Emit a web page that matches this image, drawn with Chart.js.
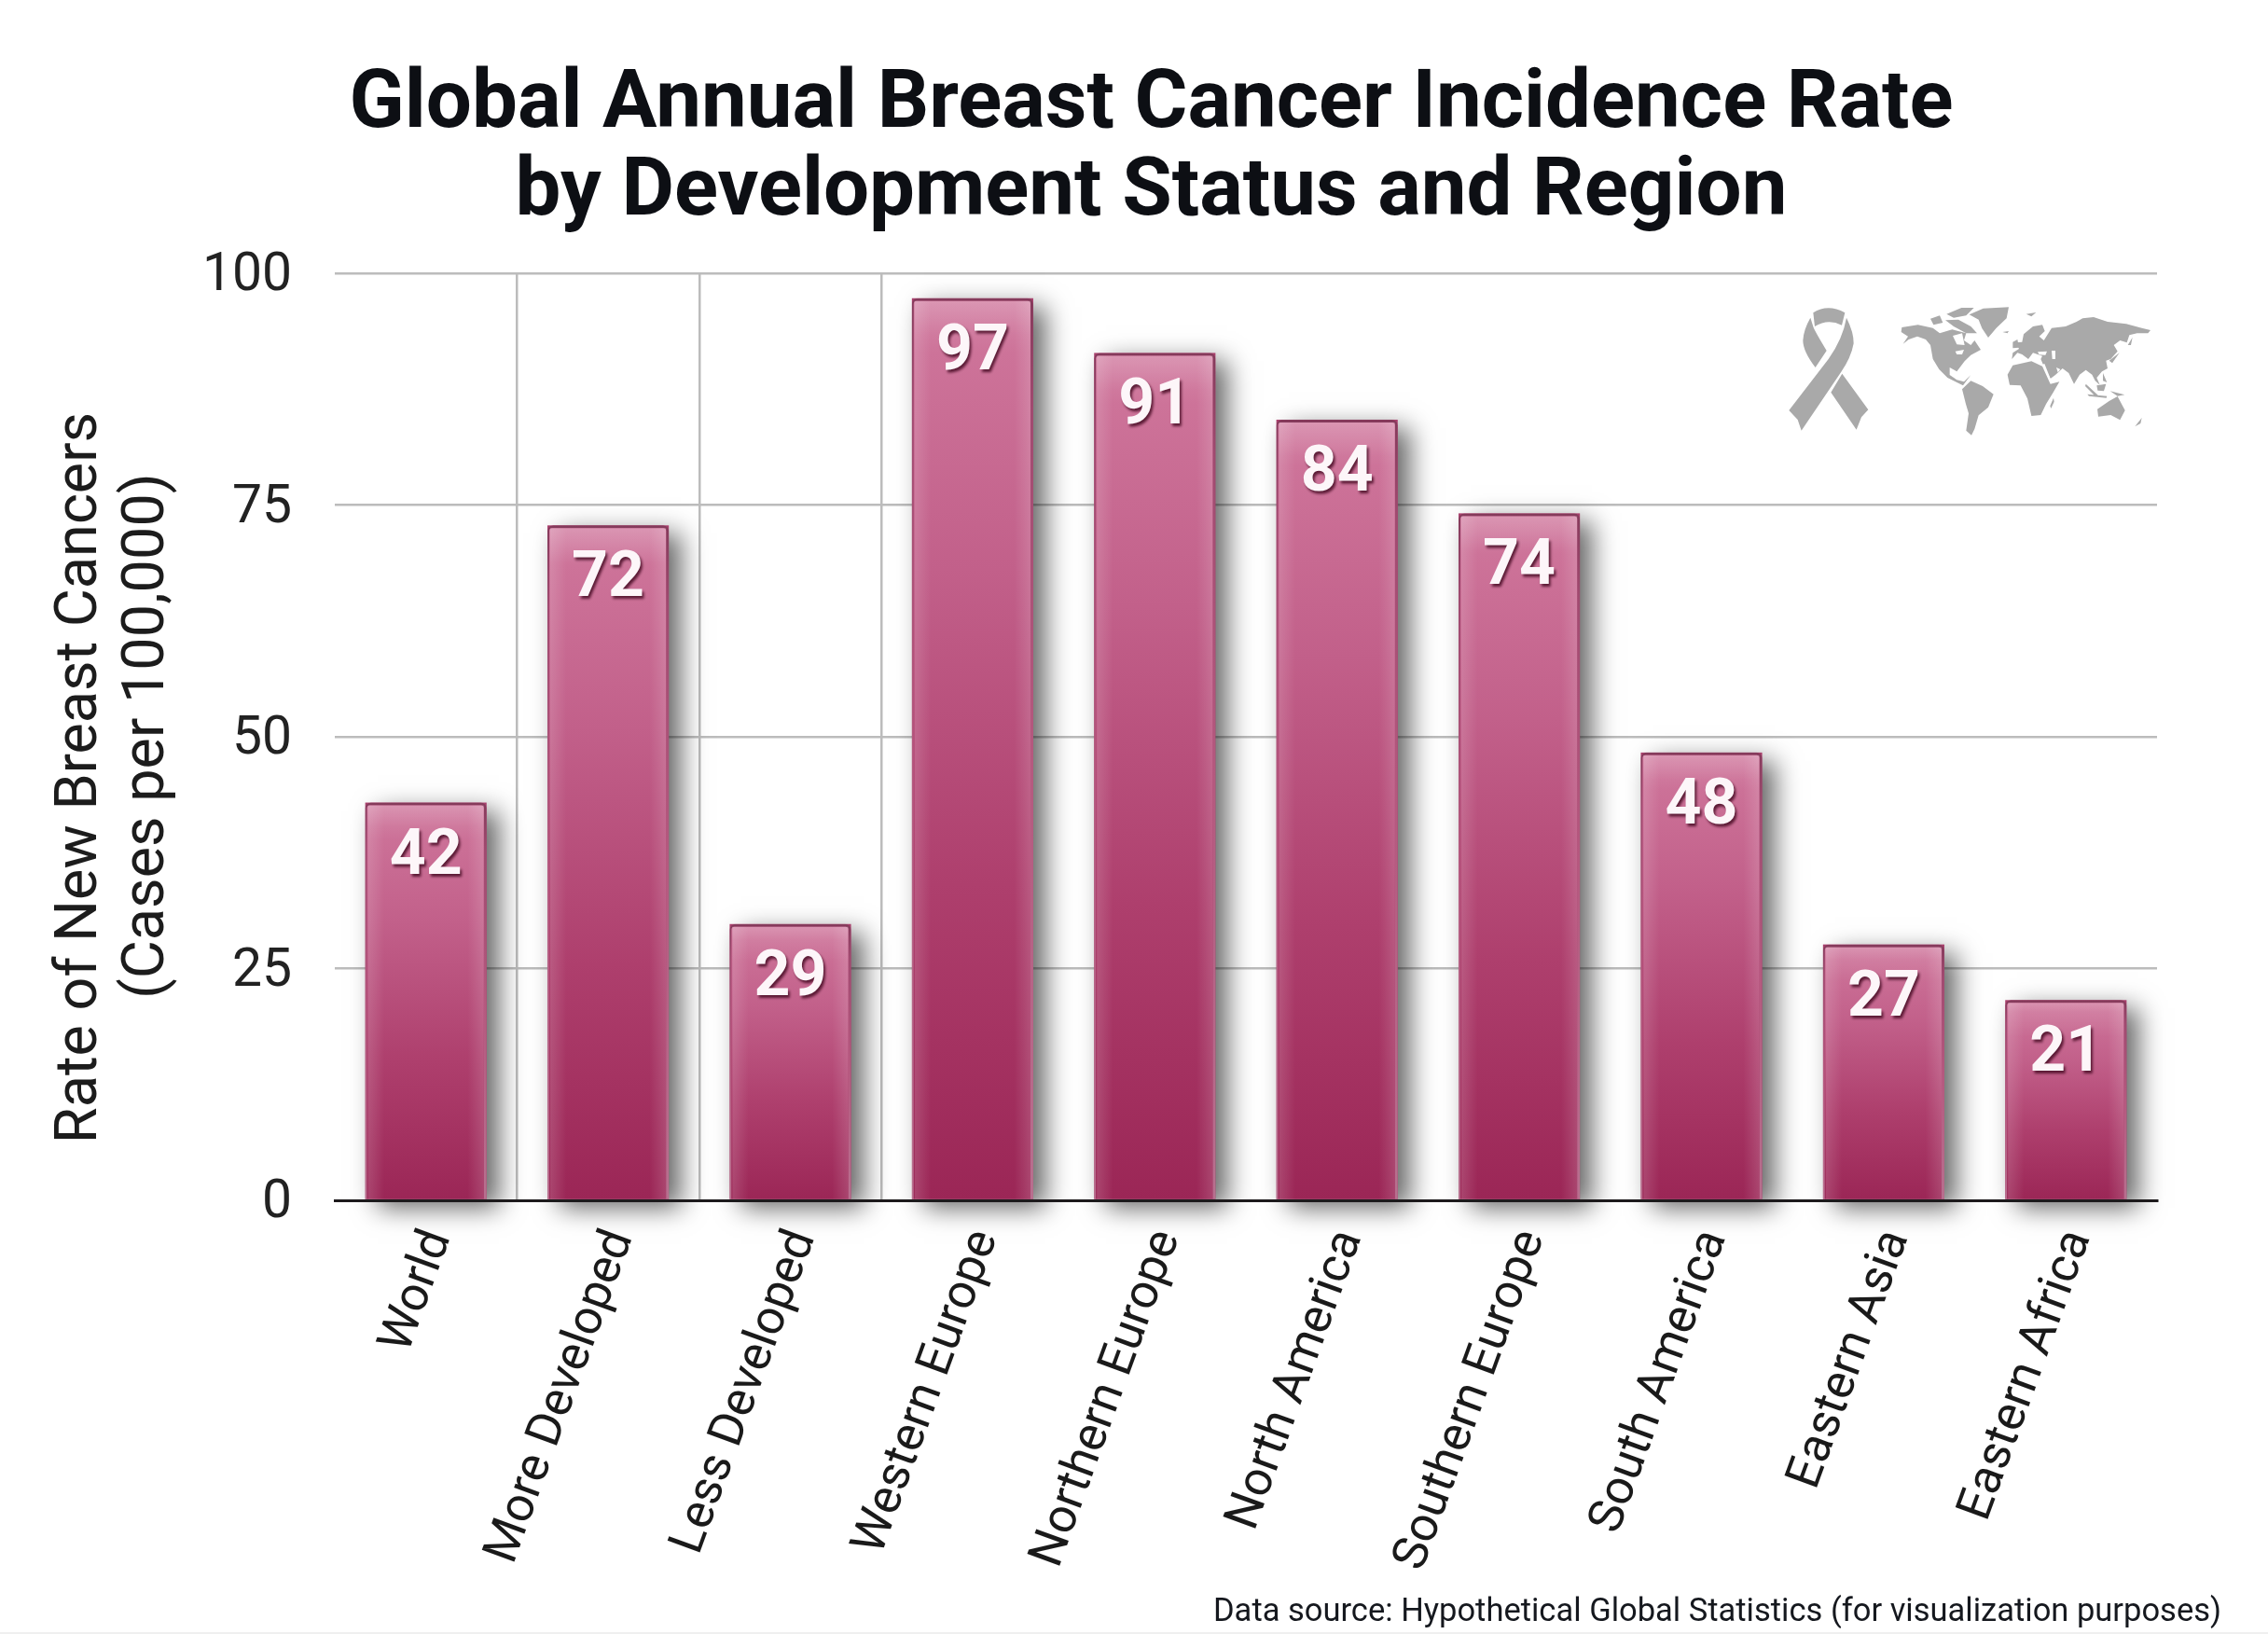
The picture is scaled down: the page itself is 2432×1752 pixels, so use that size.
<!DOCTYPE html>
<html>
<head>
<meta charset="utf-8">
<title>Global Annual Breast Cancer Incidence Rate</title>
<script src="https://cdn.jsdelivr.net/npm/chart.js@4"></script>
<style>
  html, body { margin: 0; padding: 0; background: #efefef; }
  #wrap { position: relative; width: 2432px; height: 1750px; background: #fff; overflow: hidden; }
  canvas { display: block; }
  #icons { position: absolute; left: 1850px; top: 270px; width: 500px; height: 230px; }
</style>
</head>
<body>
<div id="wrap">
  <canvas id="chart" width="2432" height="1750"></canvas>
  <!-- decorative ribbon and world map, traced by hand -->
  <svg id="icons" viewBox="0 0 1500 690">
    <g fill="#a9a9a9">
      <path d="M283 196 Q330 166 385 196 L375 236 Q330 214 288 240 Z"/>
      <path d="M274 212 L284 244 Q292 262 326 318 L290 372 Q250 320 250 285 Q252 250 274 212 Z"/>
      <path d="M390 212 Q414 260 413 295 Q405 340 372 388 L245 575 L233 540 L205 510 L332 345 Q378 280 390 212 Z"/>
      <path d="M376 392 L460 508 L438 532 L422 572 L340 452 Z"/>
      <path d="M568 243 L620 235 L668 245 L690 262 L730 250 L775 262 L768 285 L790 300 L802 285 L822 315 L790 332 L770 352 L745 385 L722 372 L722 396 L745 412 L768 418 L790 396 L765 430 L745 420 L715 405 L688 378 L668 345 L660 300 L645 282 L618 272 L590 282 L572 296 L588 272 L566 258 Z"/>
      <path d="M785 202 L830 182 L912 178 L905 214 L872 245 L846 276 L826 246 L815 218 Z"/>
      <path d="M660 215 L690 205 L700 228 L670 235 Z M712 200 L760 180 L800 180 L775 205 L735 212 Z M708 220 L750 218 L790 240 L810 262 L775 262 L735 240 Z"/>
      <path d="M762 442 L790 415 L828 432 L863 458 L846 500 L815 526 L802 570 L792 590 L775 575 L783 520 L774 490 Z"/>
      <path d="M908 395 L925 365 L985 352 L1020 368 L1046 425 L1075 418 L1055 452 L1032 490 L1015 525 L985 528 L972 472 L950 430 L915 428 Z"/>
      <path d="M922 345 L925 325 L945 312 L935 292 L955 290 L960 265 L990 240 L1020 235 L1028 255 L1010 272 L1025 285 L1050 245 L1095 240 L1130 225 L1150 214 L1185 210 L1230 225 L1290 232 L1340 245 L1368 252 L1360 262 L1325 262 L1300 268 L1292 292 L1270 285 L1250 300 L1262 320 L1240 345 L1225 350 L1230 375 L1212 385 L1195 405 L1205 428 L1190 415 L1180 395 L1160 380 L1140 395 L1122 425 L1105 390 L1085 375 L1062 396 L1046 408 L1025 368 L1015 345 L1020 335 L990 325 L975 345 L955 330 L940 325 Z"/>
      <path d="M1197 506 L1235 480 L1262 465 L1286 510 L1270 541 L1240 525 L1200 530 Z"/>
      <path d="M1045 496 L1056 470 L1058 482 L1048 504 Z M1295 300 L1310 275 L1305 300 Z M1235 350 L1268 325 L1245 358 Z"/>
      <path d="M1160 425 L1200 462 L1190 464 L1158 432 Z M1195 430 L1225 425 L1218 448 L1198 446 Z M1165 458 L1228 464 L1226 470 L1170 464 Z M1238 448 L1285 460 L1262 464 Z M1215 390 L1228 420 L1215 415 Z"/>
      <path d="M1318 562 L1340 534 L1336 552 Z M925 290 L940 282 L945 308 L925 310 Z M968 200 L1000 195 L985 208 Z M892 258 L912 255 L908 262 Z"/>
    </g>
    <g fill="#ffffff">
      <path d="M732 270 L762 262 L770 300 L745 298 Z M740 320 L768 315 L762 330 L745 330 Z M1005 322 L1035 320 L1030 332 L1010 331 Z M1050 318 L1062 318 L1062 345 L1052 345 Z M1021 362 L1027 360 L1050 418 L1045 420 Z M1065 372 L1078 378 L1070 388 Z"/>
    </g>
  </svg>
</div>
<script>
const categories = ["World", "More Developed", "Less Developed", "Western Europe", "Northern Europe", "North America", "Southern Europe", "South America", "Eastern Asia", "Eastern Africa"];
// bar heights as drawn in the picture, they sit a little above the printed numbers
const barHeights = [42.9, 72.8, 29.8, 97.3, 91.4, 84.2, 74.1, 48.3, 27.6, 21.6];
const valueLabels = ["42", "72", "29", "97", "91", "84", "74", "48", "27", "21"];
const yTickStep = 25;
const titleLines = ["Global Annual Breast Cancer Incidence Rate", "by Development Status and Region"];
const yTitleLines = ["Rate of New Breast Cancers", "(Cases per 100,000)"];
const sourceNote = "Data source: Hypothetical Global Statistics (for visualization purposes)";

const FONT = "Roboto";
const GRID = "#bcbcbc";
const verticalGridLines = [1, 2, 3];

function verticalGradient(context, fallback, stops) {
  const { chart, dataIndex } = context;
  const y = chart.scales.y;
  if (!y || dataIndex === undefined) return fallback;
  const y0 = y.getPixelForValue(barHeights[dataIndex]);
  const y1 = y.getPixelForValue(0);
  if (!Number.isFinite(y0) || !Number.isFinite(y1)) return fallback;
  const g = chart.ctx.createLinearGradient(0, y0, 0, y1);
  stops.forEach(([at, colour]) => g.addColorStop(at, colour));
  return g;
}

const barGradient = (c) => verticalGradient(c, "#b04a75", [[0, "#d688a9"], [0.06, "#cd7399"], [0.3, "#c2608a"], [0.65, "#ae3f6d"], [1, "#9b2656"]]);
const edgeGradient = (c) => verticalGradient(c, "#8a3d5e", [[0, "#853a5b"], [0.12, "#a04a70"], [0.5, "#b5597f"], [1, "#b8708f"]]);

// title box is fullSize, move it over to where the reference has it
const titleShift = {
  id: "titleShift",
  afterLayout(chart) {
    chart.titleBlock.left += 78;
    chart.titleBlock.right += 78;
  },
};

const barEffects = {
  id: "barEffects",
  // the bar element clips itself, so its drop shadow has to be laid down first
  beforeDatasetsDraw(chart) {
    const ctx = chart.ctx;
    ctx.save();
    ctx.shadowColor = "rgba(0,0,0,0.6)";
    ctx.shadowBlur = 26;
    ctx.shadowOffsetX = 13;
    ctx.shadowOffsetY = 9;
    ctx.fillStyle = "#a8406c";
    chart.getDatasetMeta(0).data.forEach((bar) => {
      const { x, y, base, width } = bar.getProps(["x", "y", "base", "width"], true);
      ctx.fillRect(x - width / 2, y, width, base - y);
    });
    ctx.restore();
  },
  afterDatasetsDraw(chart) {
    const ctx = chart.ctx;
    const bars = chart.getDatasetMeta(0).data;
    bars.forEach((bar, i) => {
      const { x, y, base, width } = bar.getProps(["x", "y", "base", "width"], true);
      const left = x - width / 2 + 3;
      const w = width - 6;

      // soft light along the sides and the top of each bar
      const side = ctx.createLinearGradient(left, 0, left + w, 0);
      side.addColorStop(0, "rgba(255,255,255,0.14)");
      side.addColorStop(0.14, "rgba(255,255,255,0)");
      side.addColorStop(0.86, "rgba(255,255,255,0)");
      side.addColorStop(1, "rgba(255,255,255,0.14)");
      ctx.fillStyle = side;
      ctx.fillRect(left, y + 3, w, base - y - 3);

      const top = ctx.createLinearGradient(0, y + 3, 0, y + 40);
      top.addColorStop(0, "rgba(255,255,255,0.12)");
      top.addColorStop(1, "rgba(255,255,255,0)");
      ctx.fillStyle = top;
      ctx.fillRect(left, y + 3, w, 37);

      ctx.save();
      ctx.font = "700 68px " + FONT;
      ctx.textAlign = "center";
      ctx.textBaseline = "alphabetic";
      ctx.shadowColor = "rgba(70,10,35,0.85)";
      ctx.shadowBlur = 3;
      ctx.shadowOffsetX = 2;
      ctx.shadowOffsetY = 3;
      ctx.fillStyle = "#fdf6f9";
      ctx.fillText(valueLabels[i], x, y + 76);
      ctx.restore();
    });
  },
};

// two axis title lines have different centres in the reference, so they are drawn one by one
const sideTexts = {
  id: "sideTexts",
  afterDraw(chart) {
    const ctx = chart.ctx;
    ctx.save();
    ctx.fillStyle = "#1c1c1c";
    ctx.textAlign = "center";
    ctx.textBaseline = "alphabetic";
    ctx.translate(103, 834);
    ctx.rotate(-Math.PI / 2);
    ctx.font = "400 63px " + FONT;
    ctx.fillText(yTitleLines[0], 0, 0);
    ctx.restore();

    ctx.save();
    ctx.fillStyle = "#1c1c1c";
    ctx.textAlign = "center";
    ctx.textBaseline = "alphabetic";
    ctx.translate(175, 789);
    ctx.rotate(-Math.PI / 2);
    ctx.font = "400 63px " + FONT;
    ctx.fillText(yTitleLines[1], 0, 0);
    ctx.restore();

    ctx.save();
    ctx.fillStyle = "#15181e";
    ctx.textAlign = "right";
    ctx.textBaseline = "alphabetic";
    ctx.font = "400 34.5px " + FONT;
    ctx.fillText(sourceNote, 2382, 1738);
    ctx.restore();
  },
};

new Chart(document.getElementById("chart"), {
  type: "bar",
  data: {
    labels: categories,
    datasets: [{
      data: barHeights,
      backgroundColor: barGradient,
      borderColor: edgeGradient,
      borderWidth: { top: 3, left: 2, right: 3, bottom: 0 },
      borderSkipped: false,
      borderRadius: { topLeft: 6, topRight: 6, bottomLeft: 0, bottomRight: 0 },
      barPercentage: 0.666,
      categoryPercentage: 1,
    }],
  },
  options: {
    responsive: false,
    devicePixelRatio: 1,
    animation: false,
    layout: { padding: { left: 0, right: 119, top: 0, bottom: 0 } },
    plugins: {
      legend: { display: false },
      tooltip: { enabled: false },
      title: {
        display: true,
        text: titleLines,
        color: "#0d0f14",
        font: { family: FONT, size: 87, weight: "700", lineHeight: 1.08 },
        padding: { top: 67, bottom: 38 },
      },
    },
    scales: {
      x: {
        grid: {
          color: (c) => (verticalGridLines.includes(c.index) ? GRID : "rgba(0,0,0,0)"),
          lineWidth: 2.5,
          drawTicks: false,
        },
        border: { display: true, color: "#1d1a1c", width: 3, z: 1 },
        ticks: {
          autoSkip: false,
          minRotation: 70,
          maxRotation: 70,
          padding: 24,
          labelOffset: 14,
          color: "#1a1a1a",
          font: { family: FONT, size: 52 },
        },
        afterFit(scale) { scale.height = 463; },
      },
      y: {
        min: 0,
        max: 100,
        grid: { color: GRID, lineWidth: 2.5, drawTicks: false },
        border: { display: false },
        ticks: {
          stepSize: yTickStep,
          padding: 46,
          labelOffset: 4,
          color: "#222222",
          font: { family: FONT, size: 57 },
        },
        afterFit(scale) { scale.width = 359; },
      },
    },
  },
  plugins: [titleShift, barEffects, sideTexts],
});
</script>
</body>
</html>
